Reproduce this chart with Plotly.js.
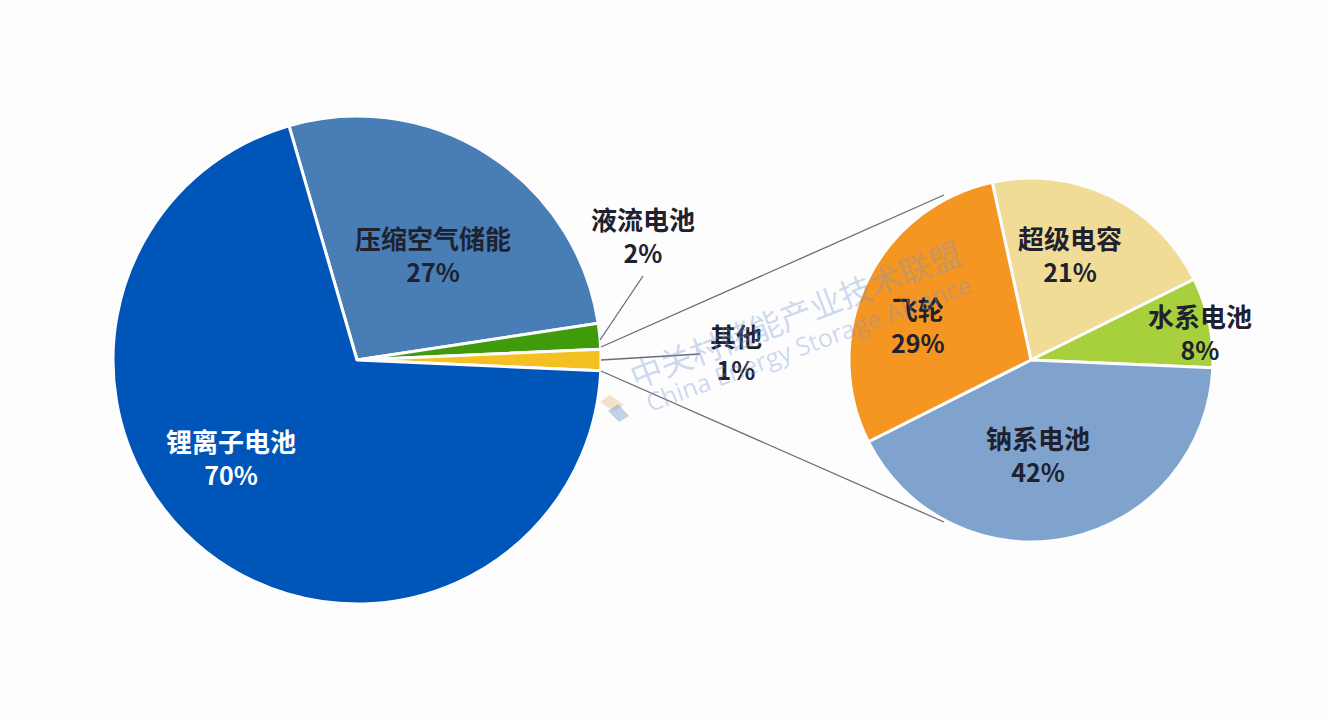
<!DOCTYPE html>
<html><head><meta charset="utf-8">
<script src="https://cdn.plot.ly/plotly-3.0.1.min.js"></script>
<style>html,body{margin:0;padding:0;background:#fdfdfe}#c{width:1328px;height:720px}</style></head>
<body><div id="c"></div>
<script>
const mainLabels=["压缩空气储能","液流电池","其他","锂离子电池"];
const mainValues=[27.1,1.7,1.4,69.8];
const mainPct=["27%","2%","1%","70%"];
const mainColors=["#487db5","#3f9a0c","#f5c122","#0055b8"];
const subLabels=["超级电容","水系电池","钠系电池","飞轮"];
const subValues=[21.1,8,41.9,29];
const subPct=["21%","8%","42%","29%"];
const subColors=["#f0dc96","#a8cf3c","#7fa3cc","#f59522"];
const W=1328,H=720;
const px=x=>x/W, py=y=>1-y/H;
const dark="#20212f";
const font='"Noto Sans CJK SC","Noto Sans",sans-serif';
const mainPos=[[433,254,dark],[643,235,dark],[736,352,dark],[231,457,"#ffffff"]];
const subPos=[[1070,254,dark],[1200,332,dark],[1038,454,dark],[918,325,dark]];
function lab(t,p,x,y,c){return {xref:"paper",yref:"paper",x:px(x),y:py(y),xanchor:"center",yanchor:"middle",showarrow:false,
 text:'<b><span style="font-size:26px">'+t+'</span></b><br><b><span style="font-size:25px">'+p+'</span></b>',font:{family:font,size:25,color:c},align:"center"};}
const ann=[];
mainLabels.forEach((t,i)=>ann.push(lab(t,mainPct[i],...mainPos[i])));
subLabels.forEach((t,i)=>ann.push(lab(t,subPct[i],...subPos[i])));
const wm="rgba(115,150,205,0.36)";
ann.push({xref:"paper",yref:"paper",x:px(795),y:py(313),text:"中关村储能产业技术联盟",showarrow:false,textangle:-21,font:{family:font,size:32,color:wm}});
ann.push({xref:"paper",yref:"paper",x:px(808),y:py(343),text:"China Energy Storage Alliance",showarrow:false,textangle:-20.4,font:{family:'"Open Sans",sans-serif',size:25,color:wm}});
function seg(a,b,c,d){return {type:"line",xref:"paper",yref:"paper",x0:px(a),y0:py(b),x1:px(c),y1:py(d),line:{color:"#6b6b78",width:1.3}};}
function poly(pts,col){return {type:"path",xref:"paper",yref:"paper",path:"M"+pts.map(p=>px(p[0])+","+py(p[1])).join("L")+"Z",fillcolor:col,line:{width:0}};}
const shapes=[seg(601,347,944,195),seg(601,360,700,354),seg(601,371,944,522),seg(600,340,643,276),
 poly([[600,402],[610,395],[624,405],[614,412]],"rgba(235,190,140,0.45)"),
 poly([[608,411],[618,404],[629,416],[619,422]],"rgba(130,165,215,0.5)")];
Plotly.newPlot("c",[
 {type:"pie",labels:mainLabels,values:mainValues,sort:false,direction:"clockwise",rotation:-16.2,textinfo:"none",hoverinfo:"label+percent",
  marker:{colors:mainColors,line:{color:"#fdfdfe",width:3}},domain:{x:[px(113),px(601)],y:[py(604),py(116)]}},
 {type:"pie",labels:subLabels,values:subValues,sort:false,direction:"clockwise",rotation:-12.3,textinfo:"none",hoverinfo:"label+percent",
  marker:{colors:subColors,line:{color:"#fdfdfe",width:3}},domain:{x:[px(849),px(1213)],y:[py(542),py(178)]}}
],{width:W,height:H,margin:{l:0,r:0,t:0,b:0},paper_bgcolor:"#fdfdfe",showlegend:false,annotations:ann,shapes:shapes},{displayModeBar:false});
</script></body></html>
